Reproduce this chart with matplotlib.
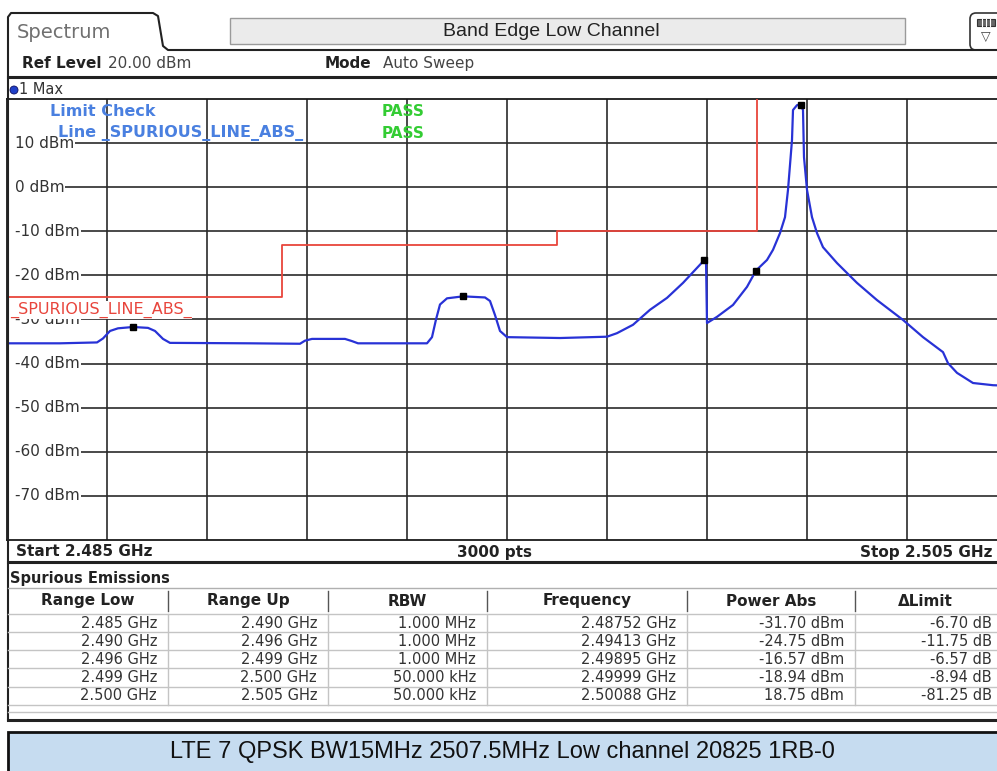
import matplotlib
matplotlib.use("Agg")
import matplotlib.pyplot as plt
import matplotlib.transforms as mtransforms
from matplotlib.patches import Rectangle, FancyBboxPatch, Circle

plt.rcParams["font.family"] = ["DejaVu Sans"]

# trace 1 (max hold)
freq_ghz = [
    2.48503, 2.48607, 2.48681, 2.48693, 2.48707, 2.48723, 2.48753, 2.48783,
    2.48797, 2.48813, 2.48827, 2.48987, 2.49087, 2.49097, 2.49111, 2.49177,
    2.49191, 2.49203, 2.49341, 2.49351, 2.49359, 2.49367, 2.49381, 2.49413,
    2.49457, 2.49467, 2.49477, 2.49487, 2.49501, 2.49607, 2.49701, 2.49721,
    2.49753, 2.49787, 2.49821, 2.49853, 2.49881, 2.49895, 2.49899, 2.49901,
    2.49921, 2.49953, 2.49981, 2.49999, 2.50021, 2.50033, 2.50047, 2.50057,
    2.50063, 2.50071, 2.50073, 2.50081, 2.50088, 2.50093, 2.50095, 2.50101,
    2.50111, 2.50121, 2.50133, 2.50161, 2.50201, 2.50241, 2.50293, 2.50333,
    2.50373, 2.50383, 2.50401, 2.50433, 2.50473, 2.50499,
]
level_dbm = [
    -35.4, -35.4, -35.2, -34.3, -32.6, -32.0, -31.7, -31.9,
    -32.6, -34.4, -35.3, -35.4, -35.5, -34.8, -34.4, -34.4,
    -34.9, -35.4, -35.4, -34.0, -30.0, -26.6, -25.2, -24.75,
    -25.0, -25.8, -29.0, -32.6, -34.0, -34.2, -33.9, -33.1,
    -31.2, -27.8, -25.1, -21.7, -18.3, -16.6, -16.4, -30.8,
    -29.4, -26.7, -22.6, -18.9, -16.5, -14.2, -10.4, -6.8,
    -0.6, 10.7, 17.5, 18.6, 18.75, 17.5, 6.8, -0.6,
    -6.8, -10.4, -13.6, -17.2, -21.7, -25.6, -30.1, -34.0,
    -37.4, -39.9, -42.1, -44.4, -44.9, -45.0,
]

# limit line _SPURIOUS_LINE_ABS_
limit_freq = [2.485, 2.4905, 2.4905, 2.496, 2.496, 2.500, 2.500]
limit_dbm = [-25, -25, -13, -13, -10, -10, 100]

# spurious emissions table
range_low = ["2.485 GHz", "2.490 GHz", "2.496 GHz", "2.499 GHz", "2.500 GHz"]
range_up = ["2.490 GHz", "2.496 GHz", "2.499 GHz", "2.500 GHz", "2.505 GHz"]
rbw = ["1.000 MHz", "1.000 MHz", "1.000 MHz", "50.000 kHz", "50.000 kHz"]
peak_freq = [2.48752, 2.49413, 2.49895, 2.49999, 2.50088]
power_abs = [-31.70, -24.75, -16.57, -18.94, 18.75]
delta_limit = [-6.70, -11.75, -6.57, -8.94, -81.25]

col_names = ["Range Low", "Range Up", "RBW", "Frequency", "Power Abs", "\u0394Limit"]

f_start, f_stop = 2.485, 2.505
ref_level = 20
y_grid = [10, 0, -10, -20, -30, -40, -50, -60, -70]
x_grid = [2.487, 2.489, 2.491, 2.493, 2.495, 2.497, 2.499, 2.501, 2.503]

caption = "LTE 7 QPSK BW15MHz 2507.5MHz Low channel 20825 1RB-0"

W, H = 997, 771
fig = plt.figure(figsize=(W / 100, H / 100), dpi=100)


def px_box(x0, y0, x1, y1):
    return [x0 / W, 1 - y1 / H, (x1 - x0) / W, (y1 - y0) / H]


# ---- spectrum diagram ----
ax = fig.add_axes(px_box(6.5, 99, 1006.5, 540))
ax.set_xlim(f_start, f_stop)
ax.set_ylim(-80, ref_level)
ax.set_xticks([])
ax.set_yticks([])
for s in ax.spines.values():
    s.set_linewidth(1.3)
    s.set_color("#1a1a1a")

for f in x_grid:
    ax.axvline(f, color="#2a2a2a", lw=1.2, zorder=1)
for v in y_grid:
    ax.axhline(v, xmin=0.012, color="#2a2a2a", lw=1.2, zorder=1)

ylab_tr = mtransforms.blended_transform_factory(ax.transAxes, ax.transData)
for v in y_grid:
    ax.text(0.0085, v, f"{v} dBm", transform=ylab_tr, ha="left", va="center",
            fontsize=11, color="#333333", zorder=6,
            bbox=dict(fc="white", ec="none", pad=0.6))

ax.plot(limit_freq, limit_dbm, color="#e8453c", lw=1.3, zorder=3)
ax.plot(freq_ghz, level_dbm, color="#2832d6", lw=1.6, zorder=4)
ax.plot(peak_freq, power_abs, "s", color="black", ms=4, zorder=5)

ax.text(0.0035, -27.85, "_SPURIOUS_LINE_ABS_", transform=ylab_tr, ha="left",
        va="center", fontsize=11.5, color="#e8453c", zorder=7,
        bbox=dict(fc="white", ec="none", pad=0.3))

# ---- screen furniture (pixel coordinates) ----
ov = fig.add_axes([0, 0, 1, 1], zorder=10)
ov.set_xlim(0, W)
ov.set_ylim(H, 0)
ov.axis("off")
ov.patch.set_alpha(0)

dark = "#222222"
ov.plot([8, 8, 11, 153, 158, 163, 168, 1000],
        [720, 17, 13, 13, 16, 46, 50, 50], color=dark, lw=1.5)
ov.text(17, 32, "Spectrum", fontsize=14, color="#707070", va="center")
ov.add_patch(Rectangle((230, 18), 675, 26, fc="#ebebeb", ec="#9a9a9a", lw=1))
ov.text(551, 31, "Band Edge Low Channel", fontsize=14, color="#222222",
        ha="center", va="center", family="Liberation Sans")
ov.add_patch(FancyBboxPatch((970, 13), 34, 37, boxstyle="round,pad=0,rounding_size=6",
                            fc="white", ec="#333333", lw=1.2))
ov.add_patch(Rectangle((977, 19), 18, 7, fc="#666666", ec="#333333", lw=0.8))
for gx in (982, 986, 990):
    ov.plot([gx, gx], [19, 26], color="white", lw=0.8)
ov.text(986, 36, "\u25bd", fontsize=9, color="#444444", ha="center", va="center")

ov.text(22, 63.5, "Ref Level", fontsize=11, weight="bold", color=dark, va="center")
ov.text(108, 63.5, f"{ref_level:.2f} dBm", fontsize=11, color="#444444", va="center")
ov.text(325, 63.5, "Mode", fontsize=11, weight="bold", color=dark, va="center")
ov.text(383, 63.5, "Auto Sweep", fontsize=11, color="#444444", va="center")
ov.plot([8, 1000], [77, 77], color=dark, lw=2.2)

ov.add_patch(Circle((14, 90), 4, fc="#2040c8", ec="#101060", lw=0.6))
ov.text(19, 90, "1 Max", fontsize=10.5, color="#333333", va="center")

blue_txt = "#4a80e0"
green_txt = "#33cc33"
ov.text(50, 111, "Limit Check", fontsize=11.5, weight="bold", color=blue_txt, va="center")
ov.text(58, 133, "Line _SPURIOUS_LINE_ABS_", fontsize=11.5, weight="bold",
        color=blue_txt, va="center")
ov.text(382, 111, "PASS", fontsize=11, weight="bold", color=green_txt, va="center")
ov.text(382, 133, "PASS", fontsize=11, weight="bold", color=green_txt, va="center")

ov.text(16, 552, f"Start {f_start:.3f} GHz", fontsize=11, weight="bold", color=dark, va="center")
ov.text(494, 552, "3000 pts", fontsize=11, weight="bold", color=dark, va="center", ha="center")
ov.text(992, 552, f"Stop {f_stop:.3f} GHz", fontsize=11, weight="bold", color=dark,
        va="center", ha="right")
ov.plot([8, 1000], [562, 562], color=dark, lw=2.2)

ov.text(10, 578, "Spurious Emissions", fontsize=10.5, weight="bold", color=dark, va="center")

# ---- table ----
col_edges = [8, 168, 328, 487, 687, 855, 1003]
row_edges = [614, 632, 650, 668, 687, 705]
ov.plot([8, 1000], [588, 588], color="#b0b0b0", lw=1)
for cx in col_edges[1:-1]:
    ov.plot([cx, cx], [591, 611], color="#555555", lw=1)
    ov.plot([cx, cx], [614, 705], color="#c4c4c4", lw=1)
for ry in row_edges:
    ov.plot([8, 1000], [ry, ry], color="#c4c4c4", lw=1)
ov.plot([8, 1000], [712, 712], color="#c4c4c4", lw=1)
ov.plot([8, 1000], [720, 720], color=dark, lw=2.2)

for i, name in enumerate(col_names):
    ov.text((col_edges[i] + col_edges[i + 1]) / 2 if i < 5 else 925, 601, name,
            fontsize=11, weight="bold", color=dark, ha="center", va="center")

rows = zip(range_low, range_up, rbw,
           [f"{f:.5f} GHz" for f in peak_freq],
           [f"{p:.2f} dBm" for p in power_abs],
           [f"{d:.2f} dB" for d in delta_limit])
for r, cells in enumerate(rows):
    yc = (row_edges[r] + row_edges[r + 1]) / 2 if r < 4 else 696
    for c, txt in enumerate(cells):
        ov.text(col_edges[c + 1] - 11, yc, txt, fontsize=10.5, color="#333333",
                ha="right", va="center")

# ---- caption ----
ov.add_patch(Rectangle((8, 732), 1000, 45, fc="#c6dcf0", ec="#111111", lw=2))
ov.text(502, 752, caption, fontsize=17, color="#111111", ha="center", va="center",
        family="Liberation Sans")

fig.savefig("out.png", dpi=100)
